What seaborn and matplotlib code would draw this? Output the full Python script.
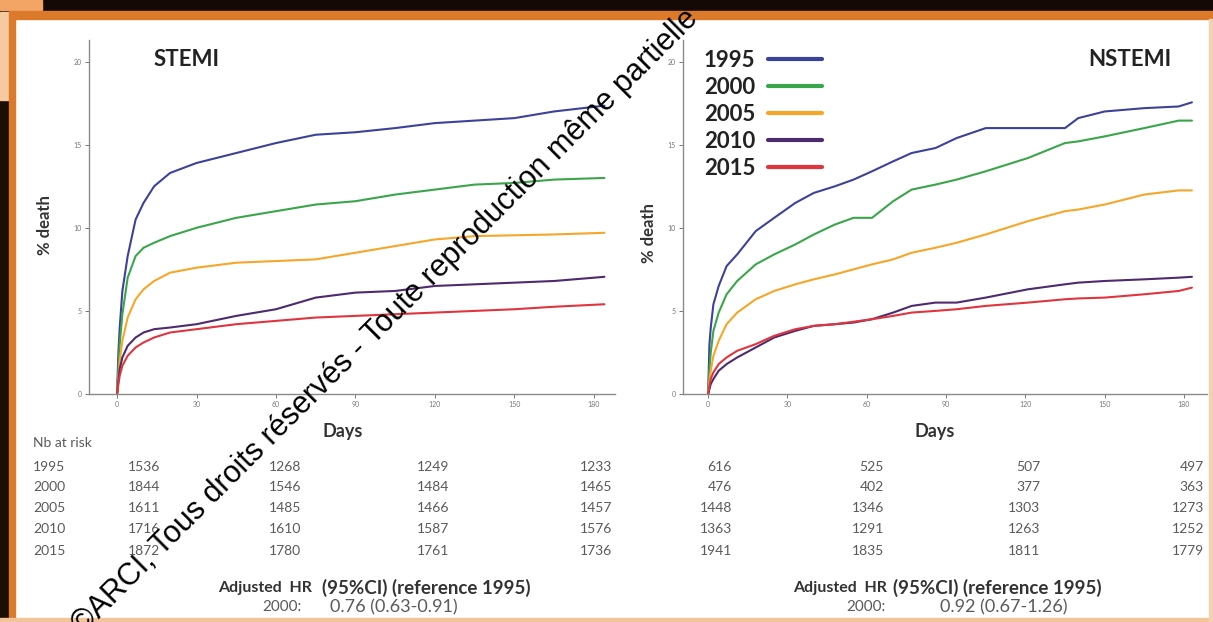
import numpy as np
import pandas as pd
import matplotlib
matplotlib.use("Agg")
import matplotlib.pyplot as plt
import seaborn as sns
from matplotlib.patches import Rectangle

# ---------------- data ----------------
years = ["1995", "2000", "2005", "2010", "2015"]
colors = ["#3c429a", "#3aa64a", "#f6a628", "#4e2a6e", "#e0353e"]

stemi_days = [0, 0.5, 1, 2, 4, 7, 10, 14, 20, 30, 45, 60, 75, 90, 105, 120, 135, 150, 165, 184]
stemi_1995 = [0, 2.5, 4.0, 6.2, 8.3, 10.5, 11.5, 12.5, 13.3, 13.9, 14.5, 15.1, 15.6, 15.75, 16.0, 16.3, 16.45, 16.6, 17.0, 17.35]
stemi_2000 = [0, 1.5, 3.0, 4.8, 7.0, 8.3, 8.8, 9.1, 9.5, 10.0, 10.6, 11.0, 11.4, 11.6, 12.0, 12.3, 12.6, 12.7, 12.9, 13.0]
stemi_2005 = [0, 1.0, 2.0, 3.2, 4.6, 5.7, 6.3, 6.8, 7.3, 7.6, 7.9, 8.0, 8.1, 8.5, 8.9, 9.3, 9.5, 9.55, 9.6, 9.7]
stemi_2010 = [0, 0.8, 1.5, 2.2, 2.9, 3.4, 3.7, 3.9, 4.0, 4.2, 4.7, 5.1, 5.8, 6.1, 6.2, 6.5, 6.6, 6.7, 6.8, 7.05]
stemi_2015 = [0, 0.6, 1.1, 1.7, 2.3, 2.8, 3.1, 3.4, 3.7, 3.9, 4.2, 4.4, 4.6, 4.7, 4.8, 4.9, 5.0, 5.1, 5.25, 5.4]

nstemi_days = [0, 0.5, 1, 2, 4, 7, 11, 18, 25, 33, 40, 48, 55, 62, 70, 77, 86, 94, 105, 121, 135, 140, 150, 165, 178, 183]
nstemi_1995 = [0, 3.0, 4.0, 5.4, 6.5, 7.7, 8.4, 9.8, 10.6, 11.5, 12.1, 12.5, 12.9, 13.4, 14.0, 14.5, 14.8, 15.4, 16.0, 16.0, 16.0, 16.6, 17.0, 17.2, 17.3, 17.55]
nstemi_2000 = [0, 1.5, 2.5, 3.8, 4.9, 6.0, 6.8, 7.8, 8.4, 9.0, 9.6, 10.2, 10.6, 10.6, 11.6, 12.3, 12.6, 12.9, 13.4, 14.2, 15.1, 15.2, 15.5, 16.0, 16.45, 16.45]
nstemi_2005 = [0, 0.8, 1.4, 2.3, 3.2, 4.2, 4.9, 5.7, 6.2, 6.6, 6.9, 7.2, 7.5, 7.8, 8.1, 8.5, 8.8, 9.1, 9.6, 10.4, 11.0, 11.1, 11.4, 12.0, 12.25, 12.25]
nstemi_2010 = [0, 0.3, 0.6, 0.9, 1.4, 1.8, 2.2, 2.8, 3.4, 3.8, 4.1, 4.2, 4.3, 4.5, 4.9, 5.3, 5.5, 5.5, 5.8, 6.3, 6.6, 6.7, 6.8, 6.9, 7.0, 7.05]
nstemi_2015 = [0, 0.5, 0.9, 1.3, 1.8, 2.2, 2.6, 3.0, 3.5, 3.9, 4.1, 4.2, 4.35, 4.5, 4.7, 4.9, 5.0, 5.1, 5.3, 5.5, 5.7, 5.75, 5.8, 6.0, 6.2, 6.4]

x_ticks = [0, 30, 60, 90, 120, 150, 180]
y_ticks = [0, 5, 10, 15, 20]

stemi_risk = [[1536, 1268, 1249, 1233],
              [1844, 1546, 1484, 1465],
              [1611, 1485, 1466, 1457],
              [1716, 1610, 1587, 1576],
              [1872, 1780, 1761, 1736]]
nstemi_risk = [[616, 525, 507, 497],
               [476, 402, 377, 363],
               [1448, 1346, 1303, 1273],
               [1363, 1291, 1263, 1252],
               [1941, 1835, 1811, 1779]]

stemi_hr = ("2000:", "0.76 (0.63-0.91)")
nstemi_hr = ("2000:", "0.92 (0.67-1.26)")


def long_df(days, series):
    rows = []
    for yr, vals in zip(years, series):
        rows.append(pd.DataFrame({"Days": days, "pct": vals, "Year": yr}))
    return pd.concat(rows, ignore_index=True)


df_stemi = long_df(stemi_days, [stemi_1995, stemi_2000, stemi_2005, stemi_2010, stemi_2015])
df_nstemi = long_df(nstemi_days, [nstemi_1995, nstemi_2000, nstemi_2005, nstemi_2010, nstemi_2015])

# ---------------- figure ----------------
W, H = 1213, 622
sns.set_theme(style="white")
plt.rcParams["font.family"] = ["Lato", "DejaVu Sans"]

fig = plt.figure(figsize=(W / 100, H / 100), dpi=100)
fig.patch.set_facecolor("white")


def fx(x):
    return x / W


def fy(y):
    return 1 - y / H


# frame decoration
fig.patches.append(Rectangle((0, fy(12)), 1, 12 / H, transform=fig.transFigure, color="#140904", zorder=0))
fig.patches.append(Rectangle((0, fy(10)), fx(42), 10 / H, transform=fig.transFigure, color="#f2a565", zorder=0))
fig.patches.append(Rectangle((fx(9), fy(19)), 1, 8 / H, transform=fig.transFigure, color="#dc7a2c", zorder=0))
fig.patches.append(Rectangle((0, 0), fx(9), fy(12), transform=fig.transFigure, color="#1c0d05", zorder=0))
fig.patches.append(Rectangle((0, fy(100)), fx(9), 88 / H, transform=fig.transFigure, color="#f6c9a0", zorder=0))
fig.patches.append(Rectangle((fx(9), 0), fx(6), fy(12), transform=fig.transFigure, color="#dc7a2c", zorder=0))
fig.patches.append(Rectangle((0, 0), 1, 4 / H, transform=fig.transFigure, color="#f1c49a", zorder=0))
fig.patches.append(Rectangle((fx(1209), 0), fx(4), fy(19), transform=fig.transFigure, color="#f3d2b4", zorder=0))

ax1 = fig.add_axes([fx(89), fy(394), (615 - 89) / W, (394 - 40) / H])
ax2 = fig.add_axes([fx(683), fy(394), (1207 - 683) / W, (394 - 40) / H])

sns.lineplot(data=df_stemi, x="Days", y="pct", hue="Year", palette=colors, ax=ax1,
             estimator=None, sort=False, lw=1.5, legend=False)
sns.lineplot(data=df_nstemi, x="Days", y="pct", hue="Year", palette=colors, ax=ax2,
             estimator=None, sort=False, lw=1.5, legend=True)

for ax, xl in ((ax1, (-10.6, 188)), (ax2, (-9.5, 188.7))):
    ax.set_facecolor("none")
    ax.set_xlim(*xl)
    ax.set_ylim(0, 21.3)
    ax.set_xticks(x_ticks)
    ax.set_yticks(y_ticks)
    sns.despine(ax=ax)
    for s in ("left", "bottom"):
        ax.spines[s].set_color("#8a8a8a")
        ax.spines[s].set_linewidth(1.0)
    ax.tick_params(axis="both", bottom=True, left=True, labelsize=5, colors="#777777",
                   length=3, width=0.7, direction="out", pad=2)
    ax.set_xlabel("Days", fontsize=13, fontweight="bold", color="#333333")
    ax.set_ylabel("% death", fontsize=12, fontweight="bold", color="#333333")

ax1.xaxis.set_label_coords((343 - 89) / 526, (394 - 423) / 354)
ax1.yaxis.set_label_coords((53 - 89) / 526, (394 - 225) / 354)
ax2.xaxis.set_label_coords((935 - 683) / 524, (394 - 423) / 354)
ax2.yaxis.set_label_coords((657 - 683) / 524, (394 - 233) / 354)

fig.text(fx(187), fy(60), "STEMI", fontsize=16, fontweight="bold", color="#222222", ha="center", va="center")
fig.text(fx(1130), fy(60), "NSTEMI", fontsize=16, fontweight="bold", color="#222222", ha="center", va="center")

handles, labels = ax2.get_legend_handles_labels()
for h in handles:
    h.set_linewidth(3)
ax2.legend(handles, labels, loc="upper left", bbox_to_anchor=(fx(704), fy(50)),
           bbox_transform=fig.transFigure, frameon=False, markerfirst=False,
           prop={"weight": "bold", "size": 16}, handlelength=2.45, handletextpad=0.55,
           labelspacing=0.27, borderpad=0, borderaxespad=0)
for t in ax2.get_legend().get_texts():
    t.set_color("#222222")

# ---------------- number at risk ----------------
grey = "#5a5a5a"
fig.text(fx(33), fy(443), "Nb at risk", fontsize=10, color=grey, ha="left", va="center")
row_y = [467, 487, 508, 529, 551]
left_cols = [160, 301, 449, 612]
right_cols = [732, 884, 1040, 1204]
for yr, ry, lrow, rrow in zip(years, row_y, stemi_risk, nstemi_risk):
    fig.text(fx(33), fy(ry), yr, fontsize=10, color=grey, ha="left", va="center")
    for cx, v in zip(left_cols, lrow):
        fig.text(fx(cx), fy(ry), str(v), fontsize=10, color=grey, ha="right", va="center")
    for cx, v in zip(right_cols, rrow):
        fig.text(fx(cx), fy(ry), str(v), fontsize=10, color=grey, ha="right", va="center")

# ---------------- adjusted HR ----------------
for x_adj, x_ci, x_lab, x_val, hr in ((218, 322, 302, 330, stemi_hr), (793, 893, 886, 940, nstemi_hr)):
    fig.text(fx(x_adj), fy(588), "Adjusted  HR", fontsize=11.5, fontweight="bold", color="#333333", ha="left", va="center")
    fig.text(fx(x_ci), fy(588), "(95%CI) (reference 1995)", fontsize=13.5, fontweight="bold", color="#333333", ha="left", va="center")
    fig.text(fx(x_lab), fy(607), hr[0], fontsize=11, color=grey, ha="right", va="center")
    fig.text(fx(x_val), fy(607), hr[1], fontsize=13, color=grey, ha="left", va="center")

# ---------------- watermark ----------------
fig.text(fx(355), fy(352), "\u00a9ARCI, Tous droits r\u00e9serv\u00e9s ", fontsize=22, color="black",
         family="Liberation Sans", rotation=45, rotation_mode="anchor", ha="right", va="center")
fig.text(fx(355), fy(352), "- Toute reproduction m\u00eame partielle", fontsize=22, color="black",
         family="Liberation Sans", rotation=45, rotation_mode="anchor", ha="left", va="center")

fig.savefig("out.png", dpi=100, facecolor=fig.get_facecolor())
